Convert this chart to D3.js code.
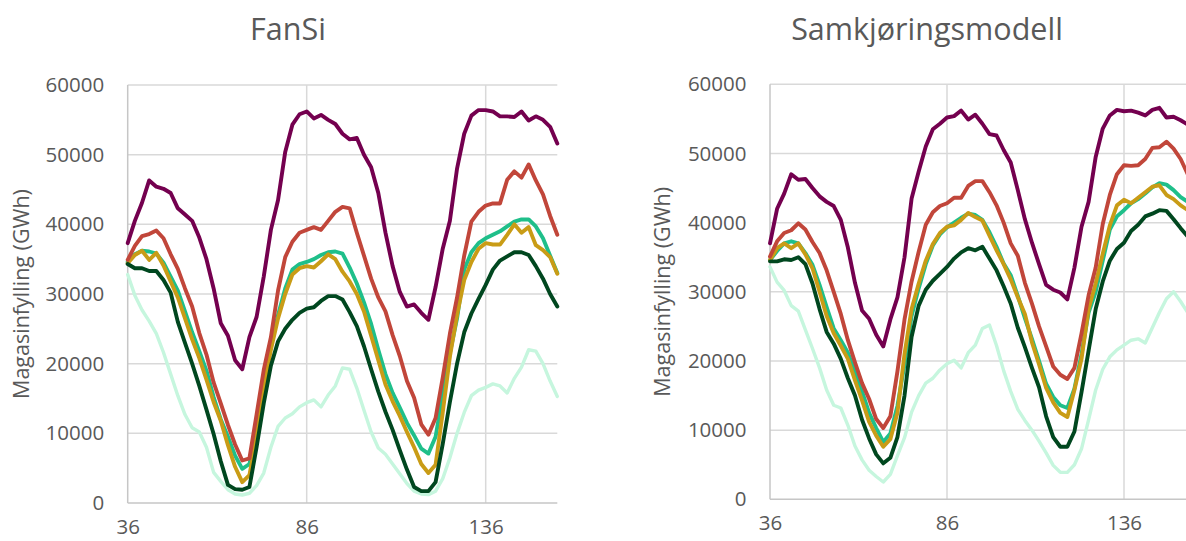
<!DOCTYPE html>
<meta charset="utf-8">
<head>
<style>
body { margin: 0; background: #fff; }
svg { display: block; }
.title { font-family: "Open Sans", sans-serif; font-size: 30.5px; fill: #595959; text-anchor: middle; }
.ylabel { font-family: "Open Sans", sans-serif; font-size: 21.5px; fill: #595959; text-anchor: middle; }
.tick text { font-family: "Open Sans", sans-serif; font-size: 20.5px; fill: #595959; }
.grid line { stroke: #d9d9d9; stroke-width: 1.5; }
.axisline { stroke: #c6c6c6; stroke-width: 1.5; }
.series { fill: none; stroke-linejoin: round; stroke-linecap: round; }
</style>
</head>
<body>
<svg width="1186" height="541"></svg>
<script src="https://cdn.jsdelivr.net/npm/d3@7"></script>
<script>

// week numbers on the x axis, one value every second week
var weeks = d3.range(36, 157, 2);
var xTicks = [36, 86, 136];
var yTicks = [0, 10000, 20000, 30000, 40000, 50000, 60000];

// FanSi
var fansiPurple = [37300,40500,43100,46300,45400,45100,44500,42300,41400,40500,38100,35000,30800,25800,24000,20500,19200,23800,26700,32500,39200,43500,50400,54300,55800,56200,55200,55700,55000,54400,53000,52200,52400,50000,48200,44500,38800,34000,30300,28200,28500,27300,26300,31000,36500,40500,48000,53000,55600,56400,56400,56200,55500,55500,55400,56200,54900,55500,55000,54000,51600];
var fansiRed = [34900,36900,38300,38600,39100,38000,35700,33600,30800,28200,24400,21300,17300,14300,11200,8400,6100,6400,12700,19100,23800,30500,35300,37500,38800,39200,39600,39200,40500,41800,42500,42300,38800,35500,32200,29500,27500,24100,21100,17500,15100,11300,9800,12200,18000,24300,29500,35500,40400,41800,42700,43000,43000,46400,47600,46700,48600,46300,44300,41200,38500];
var fansiTeal = [34600,35700,36200,36100,35800,34500,32500,30500,27500,24500,21800,19000,15200,12000,9500,6800,4900,5600,10500,17500,22500,27000,30800,33500,34300,34600,35000,35600,36000,36100,35800,33800,31500,28800,25700,22000,18500,15800,13700,11500,9700,7800,7100,9500,15500,21500,26500,33500,36000,37300,38000,38500,39000,39700,40400,40700,40700,39700,38000,35500,33000];
var fansiGold = [34400,35600,36200,34900,35900,34100,31800,29500,26500,23500,20800,17700,14500,11800,8300,5200,3000,4000,9500,16500,22000,26500,30000,32800,33700,34000,33800,34700,35700,35000,33200,31800,30000,27500,24000,20500,17000,14600,12500,10200,8000,5600,4300,5500,13000,21000,27000,32000,34600,36500,37300,37100,37100,38500,40000,38800,39600,37000,36300,35300,32900];
var fansiDark = [34300,33700,33700,33300,33300,32000,30200,26000,23000,20000,16800,13400,9900,6000,2600,2000,1900,2300,8000,14300,19700,23200,25000,26300,27300,27900,28100,29000,29700,29700,29200,27400,25400,22500,19200,16000,13100,10500,7600,4800,2300,1700,1700,3000,8500,14500,20000,24500,27200,29300,31300,33500,34800,35400,36000,36000,35600,34000,32200,30000,28200];
var fansiMint = [32800,29800,27700,26100,24300,21600,18500,15400,12700,10800,10200,8000,4400,3100,1900,1300,1150,1400,2500,4300,8000,11000,12200,12800,13800,14400,14800,13800,15500,16800,19400,19200,16500,13300,10200,7900,7000,5600,4200,2800,1700,1300,1200,1700,3500,6500,10000,13000,15400,16200,16600,17100,16800,15800,17900,19500,22000,21800,20000,17500,15300];

// Samkjøringsmodell
var samPurple = [37000,42000,44200,47000,46200,46300,45000,43800,43000,42400,40400,36400,31300,27300,26100,23800,22100,26000,29200,35000,43500,47400,51000,53500,54300,55200,55400,56200,54900,55600,54300,52800,52600,50500,48700,44700,40500,37100,34000,31000,30300,29900,28900,33500,39400,43000,49500,53600,55500,56300,56100,56200,55900,55500,56300,56600,55200,55300,54800,54200,53500];
var samRed = [35100,37300,38500,38900,39900,39000,37200,35600,33100,30000,26800,23000,19800,16800,14500,11600,10300,12000,18500,26000,31500,35800,39700,41500,42400,42800,43600,43600,45300,46000,46000,44400,42500,40000,37000,35200,31300,28300,25000,22100,19200,18000,17400,19000,24000,29500,33500,39800,44000,47000,48300,48200,48300,49200,50800,50900,51700,50700,49200,47000,45000];
var samTeal = [34600,35900,37000,37300,37000,35600,33900,31000,27800,24700,23000,21200,18500,15600,12500,10300,8300,9500,13500,19500,26500,30500,34000,36700,38300,39300,40000,40700,41300,41100,40400,38600,36500,34100,32400,29400,26200,23200,20000,16700,14800,13600,13200,16000,21000,27000,30000,34500,39000,40900,41800,42800,43400,44200,45100,45700,45500,44700,43700,43000,42000];
var samGold = [34600,36300,37000,36300,37000,35400,33400,30000,26500,24000,22200,20300,17200,14300,11200,9200,7600,8700,12500,21000,27500,31200,34500,36900,38500,39400,39600,40400,41400,40800,40300,38100,36000,34000,31800,29200,26800,22700,19500,16100,14000,12500,11900,15800,20300,27500,31200,35500,39600,42500,43300,42800,43600,44400,45200,45400,44000,43400,42500,41800,41000];
var samDark = [34400,34400,34700,34600,35000,34000,31200,27500,24200,22500,20300,17500,15000,11500,8800,6500,5200,6000,9000,15000,23500,28000,30300,31600,32600,33600,34800,35700,36300,36000,36500,34800,33100,30800,28300,24800,22000,19000,16200,12000,9000,7600,7600,9800,15500,21500,27500,31500,34500,36200,37100,38800,39700,40900,41300,41800,41700,40500,39200,38000,37000];
var samMint = [33600,31400,30200,28000,27200,24500,21800,19000,15800,13600,13200,10700,7700,5700,4200,3300,2500,3600,6300,8900,12600,15000,16800,17500,18700,19600,20100,19000,21200,22300,24700,25200,22200,18600,15600,13000,11400,10000,8400,6700,4900,3900,3900,5000,7300,11500,15800,18800,20600,21600,22300,23000,23200,22600,24800,27000,29000,30000,28600,27000,25500];

var colors = {
  mint: "#c6f6de",
  teal: "#1fbf8a",
  gold: "#c99c16",
  dark: "#00471f",
  red: "#c1463a",
  purple: "#74004f"
};

var panels = [
  { title: "FanSi", left: 127.7, right: 557.3, bottom: 503, top: 85, titleX: 288, labelX: 29,
    series: [["mint", fansiMint], ["teal", fansiTeal], ["gold", fansiGold], ["dark", fansiDark], ["red", fansiRed], ["purple", fansiPurple]] },
  { title: "Samkjøringsmodell", left: 770, right: 1194.8, bottom: 499.3, top: 84.3, titleX: 927, labelX: 670,
    series: [["mint", samMint], ["teal", samTeal], ["gold", samGold], ["dark", samDark], ["red", samRed], ["purple", samPurple]] }
];

var svg = d3.select("svg");

panels.forEach(function(p) {
  var x = d3.scaleLinear().domain([36, 156]).range([p.left, p.right]),
      y = d3.scaleLinear().domain([0, 60000]).range([p.bottom, p.top]);

  var g = svg.append("g");

  // horizontal grid
  g.append("g").attr("class", "grid")
    .selectAll("line")
    .data(yTicks.slice(1))
    .enter().append("line")
      .attr("x1", p.left).attr("x2", p.right)
      .attr("y1", function(d) { return y(d); })
      .attr("y2", function(d) { return y(d); });

  // vertical grid
  g.append("g").attr("class", "grid")
    .selectAll("line")
    .data(xTicks.slice(1))
    .enter().append("line")
      .attr("x1", function(d) { return x(d); })
      .attr("x2", function(d) { return x(d); })
      .attr("y1", p.top).attr("y2", p.bottom);

  g.append("line").attr("class", "axisline")
    .attr("x1", p.left).attr("x2", p.left).attr("y1", p.top).attr("y2", p.bottom);
  g.append("line").attr("class", "axisline")
    .attr("x1", p.left).attr("x2", p.right).attr("y1", p.bottom).attr("y2", p.bottom);

  var yAxis = g.append("g")
      .attr("transform", "translate(" + p.left + ",0)")
      .call(d3.axisLeft(y).tickValues(yTicks).tickSize(0).tickPadding(23.5).tickFormat(d3.format("d")));
  yAxis.select(".domain").remove();

  var xAxis = g.append("g")
      .attr("transform", "translate(0," + p.bottom + ")")
      .call(d3.axisBottom(x).tickValues(xTicks).tickSize(0).tickPadding(16));
  xAxis.select(".domain").remove();

  var line = d3.line()
      .x(function(d, i) { return x(weeks[i]); })
      .y(function(d) { return y(d); });

  g.selectAll(".series")
    .data(p.series)
    .enter().append("path")
      .attr("class", "series")
      .attr("stroke", function(d) { return colors[d[0]]; })
      .attr("stroke-width", function(d) { return d[0] === "mint" ? 3.4 : 3.9; })
      .attr("d", function(d) { return line(d[1]); });

  g.append("text").attr("class", "title")
    .attr("x", p.titleX).attr("y", 40)
    .text(p.title);

  g.append("text").attr("class", "ylabel")
    .attr("transform", "translate(" + p.labelX + "," + (p.top + p.bottom) / 2 + ") rotate(-90)")
    .text("Magasinfylling (GWh)");
});

</script>
</body>
